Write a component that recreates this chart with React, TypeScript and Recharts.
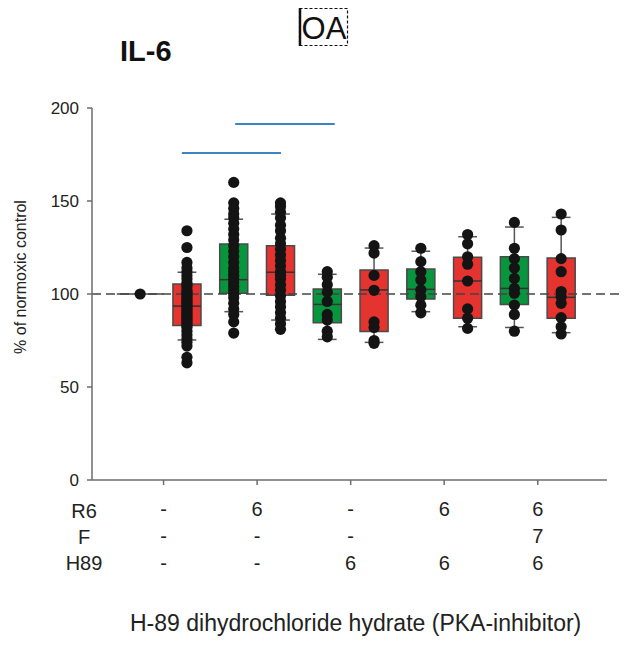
import React from "react";
import {
  ComposedChart,
  Scatter,
  XAxis,
  YAxis,
  ReferenceArea,
  ReferenceLine,
} from "recharts";

const FONT = "'Liberation Sans', Arial, sans-serif";

// box positions on the x scale (0 = normoxic control)
const BOX_X = [1, 2, 3, 4, 5, 6, 7, 8, 9];
const BOX_COLOR = [
  "#E5332F", "#07963E", "#E5332F", "#07963E", "#E5332F",
  "#07963E", "#E5332F", "#07963E", "#E5332F",
];
const Q1 = [83, 100.4, 99.3, 84.6, 79.9, 97.3, 86.9, 94.4, 86.9];
const MEDIAN = [93.5, 107.7, 111.7, 94.4, 102.2, 102.5, 107, 103, 98.2];
const Q3 = [105.4, 126.9, 126, 102.7, 112.9, 113.4, 119.7, 120, 119.4];
const WHISKER_LO = [75.3, 90.5, 86, 75.6, 74, 90.5, 82.4, 82, 79.2];
const WHISKER_HI = [111.7, 140.2, 143, 110.6, 124.7, 123, 130.8, 136, 141.2];

// individual measurements, one list per position
const CONTROL = [100];
const G1 = [134, 125, 117, 114, 112, 110, 108, 106, 105, 104, 102, 101, 100, 99, 98, 97, 96, 95, 94, 93, 92, 91, 90, 89, 88, 87, 86, 85, 84, 83, 82, 80, 78, 76, 74, 72, 66, 63];
const G2 = [160, 149, 146, 143, 141, 138, 135, 132, 129, 126, 123, 120, 117, 114, 112, 110, 108, 106, 104, 102, 100, 98, 95, 92, 89, 85, 79];
const G3 = [149, 147, 144, 141, 137, 134, 130, 127, 124, 121, 118, 115, 112, 110, 108, 105, 102, 99, 96, 93, 90, 87, 84, 81];
const G4 = [112, 109, 105, 101, 96, 89, 86, 80, 77];
const G5 = [126, 122, 110, 102, 85, 82, 75, 73.5];
const G6 = [124.6, 117.4, 112, 107.5, 102.2, 98.6, 94, 89.9];
const G7 = [132, 127, 120, 116, 107, 92, 87, 81.5];
const G8 = [138.5, 124.6, 119, 114, 108.4, 103, 100.4, 94, 89, 80];
const G9 = [143, 134.4, 119, 112, 101.3, 98.6, 95, 87.3, 82.4, 78.5];
const DOTS = [CONTROL, G1, G2, G3, G4, G5, G6, G7, G8, G9];

// treatment table under the axis
const GROUP_TICKS = [0.5, 2.5, 4.5, 6.5, 8.5];
const ROW_NAMES = ["R6", "F", "H89"];
const R6_ROW = ["-", "6", "-", "6", "6"];
const F_ROW = ["-", "-", "-", "", "7"];
const H89_ROW = ["-", "-", "6", "6", "6"];
const ROWS = [R6_ROW, F_ROW, H89_ROW];

// significance bars [from, to, height]
const SIG_BARS = [
  [0.89, 3.01, 175.8],
  [2.03, 4.16, 191.4],
];

const dotData = DOTS.flatMap((vals, i) => vals.map((v) => ({ x: i, y: v })));

const AXIS_COLOR = "#6d6d6d";
const WHISKER = "#555";

const TreatmentTick = (props: any) => {
  const { x, y, index } = props;
  const offsets = [29, 56, 83];
  return (
    <g>
      {ROWS.map((row, r) => (
        <text
          key={r}
          x={x}
          y={y + offsets[r]}
          textAnchor="middle"
          fontSize={20}
          fontFamily={FONT}
          fill="#222"
        >
          {row[index]}
        </text>
      ))}
    </g>
  );
};

const Dot = (props: any) => (
  <circle cx={props.cx} cy={props.cy} r={5.6} fill="#141414" />
);

export default function App() {
  return (
    <div
      style={{
        position: "absolute",
        left: 0,
        top: 0,
        width: 624,
        height: 646,
        background: "#fff",
      }}
    >
      <ComposedChart
        width={624}
        height={646}
        margin={{ top: 108, right: 17, bottom: 136, left: 0 }}
      >
        <XAxis
          type="number"
          dataKey="x"
          domain={[-1.03, 9.98]}
          allowDataOverflow
          ticks={GROUP_TICKS}
          tick={<TreatmentTick />}
          tickSize={5}
          height={30}
          stroke={AXIS_COLOR}
          strokeWidth={1.5}
        />
        <YAxis
          type="number"
          dataKey="y"
          domain={[0, 200]}
          ticks={[0, 50, 100, 150, 200]}
          width={92}
          tickSize={5}
          tickMargin={8}
          stroke={AXIS_COLOR}
          strokeWidth={1.5}
          tick={{ fontSize: 17, fontFamily: FONT, fill: "#222" }}
        />

        <ReferenceLine
          segment={[
            { x: -1.03, y: 100 },
            { x: 10.26, y: 100 },
          ]}
          ifOverflow="visible"
          stroke="#444"
          strokeWidth={1.3}
          strokeDasharray="9 5"
        />

        <ReferenceLine
          segment={[
            { x: -0.5, y: 100 },
            { x: 0.5, y: 100 },
          ]}
          stroke="#444"
          strokeWidth={1.5}
        />

        {BOX_X.map((bx, i) => (
          <ReferenceLine
            key={`wu-${i}`}
            segment={[
              { x: bx, y: Q3[i] },
              { x: bx, y: WHISKER_HI[i] },
            ]}
            stroke={WHISKER}
            strokeWidth={1.5}
          />
        ))}
        {BOX_X.map((bx, i) => (
          <ReferenceLine
            key={`wl-${i}`}
            segment={[
              { x: bx, y: Q1[i] },
              { x: bx, y: WHISKER_LO[i] },
            ]}
            stroke={WHISKER}
            strokeWidth={1.5}
          />
        ))}
        {BOX_X.map((bx, i) => (
          <ReferenceLine
            key={`cu-${i}`}
            segment={[
              { x: bx - 0.2, y: WHISKER_HI[i] },
              { x: bx + 0.2, y: WHISKER_HI[i] },
            ]}
            stroke={WHISKER}
            strokeWidth={1.5}
          />
        ))}
        {BOX_X.map((bx, i) => (
          <ReferenceLine
            key={`cl-${i}`}
            segment={[
              { x: bx - 0.2, y: WHISKER_LO[i] },
              { x: bx + 0.2, y: WHISKER_LO[i] },
            ]}
            stroke={WHISKER}
            strokeWidth={1.5}
          />
        ))}

        {BOX_X.map((bx, i) => (
          <ReferenceArea
            key={`box-${i}`}
            x1={bx - 0.3}
            x2={bx + 0.3}
            y1={Q1[i]}
            y2={Q3[i]}
            fill={BOX_COLOR[i]}
            fillOpacity={1}
            stroke="#4a4a4a"
            strokeWidth={1.5}
          />
        ))}
        {BOX_X.map((bx, i) => (
          <ReferenceLine
            key={`med-${i}`}
            segment={[
              { x: bx - 0.3, y: MEDIAN[i] },
              { x: bx + 0.3, y: MEDIAN[i] },
            ]}
            stroke="#333"
            strokeWidth={1.5}
          />
        ))}

        {SIG_BARS.map(([from, to, h], i) => (
          <ReferenceLine
            key={`sig-${i}`}
            segment={[
              { x: from, y: h },
              { x: to, y: h },
            ]}
            stroke="#3F83C3"
            strokeWidth={2}
          />
        ))}

        <Scatter data={dotData} shape={<Dot />} isAnimationActive={false} />
      </ComposedChart>

      <svg
        width={624}
        height={646}
        style={{ position: "absolute", left: 0, top: 0, pointerEvents: "none" }}
        fontFamily={FONT}
      >
        <text x={120} y={61} fontSize={29} fontWeight="bold" fill="#111">
          IL-6
        </text>
        <rect
          x={299.5}
          y={8.5}
          width={48}
          height={37}
          fill="none"
          stroke="#111"
          strokeWidth={1.2}
          strokeDasharray="3 2"
        />
        <line x1={300} y1={8} x2={300} y2={46} stroke="#111" strokeWidth={2.5} />
        <text x={324} y={39} fontSize={31} textAnchor="middle" fill="#111">
          OA
        </text>
        <text
          x={20}
          y={277}
          fontSize={16}
          fill="#222"
          textAnchor="middle"
          dominantBaseline="central"
          transform="rotate(-90 20 277)"
        >
          % of normoxic control
        </text>
        {ROW_NAMES.map((name, r) => (
          <text
            key={name}
            x={84}
            y={[517.5, 543.5, 570][r]}
            fontSize={20}
            textAnchor="middle"
            fill="#222"
          >
            {name}
          </text>
        ))}
        <text x={130} y={631} fontSize={23} fill="#222">
          H-89 dihydrochloride hydrate (PKA-inhibitor)
        </text>
      </svg>
    </div>
  );
}
